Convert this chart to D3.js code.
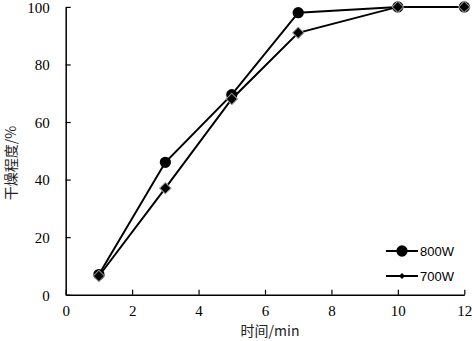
<!DOCTYPE html>
<html>
<head>
<meta charset="utf-8">
<script src="https://cdn.jsdelivr.net/npm/d3@7"></script>
<style>
  body { margin: 0; background: #fff; }
  svg { display: block; }
  .tick text { font-family: "Liberation Serif", "DejaVu Serif", serif; font-size: 15px; }
</style>
</head>
<body>
<svg width="472" height="341"></svg>
<script>
const times = [1, 3, 5, 7, 10, 12];
const w800 = [7, 46, 69.5, 98, 100, 100];
const w700 = [6.5, 37, 68, 91, 100, 100];
const xTicks = [0, 2, 4, 6, 8, 10, 12];
const yTicks = [0, 20, 40, 60, 80, 100];

const svg = d3.select('svg');
const x = d3.scaleLinear().domain([0, 12]).range([65.7, 464.3]);
const y = d3.scaleLinear().domain([0, 100]).range([294.7, 6.9]);

const sans = '"Liberation Sans", Arial, sans-serif';

// axes, ticks pointing inward
const xAxis = svg.append('g')
    .attr('transform', `translate(0, ${y(0)})`)
    .call(d3.axisBottom(x).tickValues(xTicks).tickSizeInner(-5).tickSizeOuter(0).tickPadding(11));
const yAxis = svg.append('g')
    .attr('transform', `translate(${x(0)}, 0)`)
    .call(d3.axisLeft(y).tickValues(yTicks).tickSizeInner(-5).tickSizeOuter(0).tickPadding(16));

[xAxis, yAxis].forEach(a => {
    a.attr('font-family', null).attr('font-size', null);
    a.select('.domain').attr('stroke', '#000').attr('stroke-width', 1.5);
    a.selectAll('.tick line').attr('stroke', '#000').attr('stroke-width', 1.2);
    a.selectAll('.tick text').attr('fill', '#000');
});
xAxis.selectAll('.tick text').attr('dy', '0.71em');
yAxis.selectAll('.tick text').attr('dy', '0.36em');

const line = d3.line().x(d => x(d[0])).y(d => y(d[1]));

const s800 = times.map((t, i) => [t, w800[i]]);
const s700 = times.map((t, i) => [t, w700[i]]);

svg.append('path').datum(s800).attr('d', line)
    .attr('fill', 'none').attr('stroke', '#000').attr('stroke-width', 2);
svg.append('path').datum(s700).attr('d', line)
    .attr('fill', 'none').attr('stroke', '#000').attr('stroke-width', 2);

const circle = d3.symbol().type(d3.symbolCircle).size(100);
const diamond = d3.symbol().type(d3.symbolSquare).size(64);

svg.selectAll('.c800').data(s800).enter().append('path')
    .attr('d', circle)
    .attr('transform', d => `translate(${x(d[0])},${y(d[1])})`)
    .attr('fill', '#000');

svg.selectAll('.d700').data(s700).enter().append('path')
    .attr('d', diamond)
    .attr('transform', d => `translate(${x(d[0])},${y(d[1])}) rotate(45)`)
    .attr('fill', '#000')
    .attr('stroke', '#999')
    .attr('stroke-width', 1);

// legend
const legend = [
    { name: '800W', sym: circle, rot: 0, yy: 251 },
    { name: '700W', sym: d3.symbol().type(d3.symbolSquare).size(18), rot: 45, yy: 276 }
];
legend.forEach(l => {
    svg.append('line').attr('x1', 386).attr('x2', 418).attr('y1', l.yy).attr('y2', l.yy)
        .attr('stroke', '#000').attr('stroke-width', 2);
    svg.append('path').attr('d', l.sym)
        .attr('transform', `translate(402,${l.yy}) rotate(${l.rot})`)
        .attr('fill', '#000');
    svg.append('text').attr('x', 420).attr('y', l.yy + 5)
        .style('font-family', sans).style('font-size', '13px').text(l.name);
});

// axis titles
svg.append('text')
    .attr('x', 270).attr('y', 336)
    .attr('text-anchor', 'middle')
    .style('font-family', '"Noto Sans CJK SC", sans-serif')
    .style('font-size', '14px')
    .attr('fill', '#222')
    .text('时间/min');

svg.append('text')
    .attr('transform', 'translate(16, 163) rotate(-90)')
    .attr('text-anchor', 'middle')
    .style('font-family', '"Noto Sans CJK SC", sans-serif')
    .style('font-size', '14px')
    .attr('fill', '#222')
    .text('干燥程度/%');
</script>
</body>
</html>
